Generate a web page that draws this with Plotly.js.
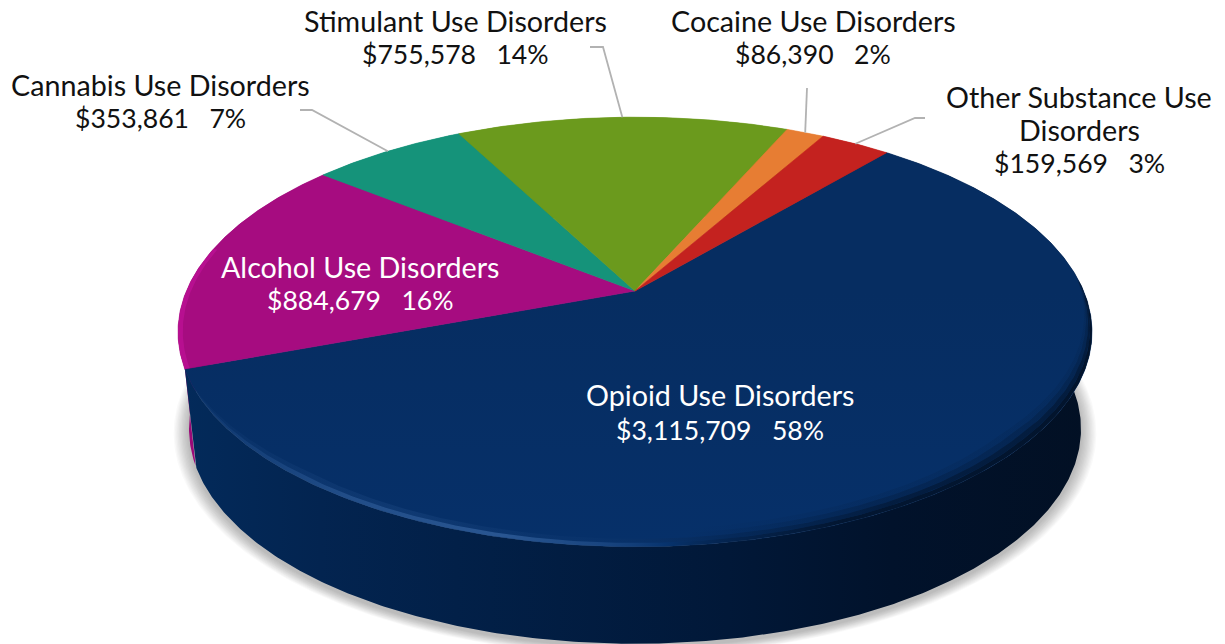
<!DOCTYPE html>
<html>
<head>
<meta charset="utf-8">
<title>Substance use disorder spending</title>
<script src="https://cdn.plot.ly/plotly-3.0.1.min.js"></script>
<style>html,body{margin:0;padding:0;background:#fff;overflow:hidden}</style>
</head>
<body>
<div id="chart" style="width:1225px;height:644px"></div>
<script>
// Spending by disorder, in clockwise slice order
const categories = ['Opioid Use Disorders', 'Alcohol Use Disorders', 'Cannabis Use Disorders',
  'Stimulant Use Disorders', 'Cocaine Use Disorders', 'Other Substance Use<br>Disorders'];
const amounts = [3115709, 884679, 353861, 755578, 86390, 159569];
const shareLabels = ['58%', '16%', '7%', '14%', '2%', '3%'];
const sliceColors = ['#062e62', '#a60c80', '#15937a', '#6b9a1d', '#e77d33', '#c4221f'];
const wallColors = ['#032550', '#9a0a78', '#15937a', '#6b9a1d', '#e77d33', '#c4221f'];
const labelColors = ['#ffffff', '#ffffff', '#111111', '#111111', '#111111', '#111111'];
const labelX = [720, 360, 160, 455, 813, 1079];
const labelFirstLineY = [395, 267, 85, 21, 21, 97];
const labelLineGap = [35, 33, 33, 33, 33, 33];
// Elbow and far end of each leader line; null when the label sits on its slice
const leaderEnds = [null, null, [[312, 110], [300, 110]], [[603, 47], [590, 47]],
  [[807, 88]], [[915, 118], [925, 118]]];

// Tilted disc: apex position, radii, perspective strength, wall geometry
const cx = 635, cy = 291, A = 448.6, B = 207, P = 0.1906;
const wallDrop = 97, baseShrink = 0.976;
const startAngle = 40.0 * Math.PI / 180;
const total = amounts.reduce((a, b) => a + b, 0);
const rad = d => d * Math.PI / 180;

function project(t, r) {
  const u = r * Math.sin(t), v = -r * Math.cos(t), w = 1 - P * v;
  return [cx + A * u / w, cy + B * v / w];
}
function projectBase(t, grow) {
  const p = project(t, 1);
  return [cx + (p[0] - cx) * (baseShrink + (grow || 0)),
          cy + wallDrop + (p[1] - cy) * (1 + (grow || 0))];
}
function arc(fn, t0, t1) {
  const n = Math.max(2, Math.ceil(Math.abs(t1 - t0) / rad(0.5)));
  const pts = [];
  for (let i = 0; i <= n; i++) pts.push(fn(t0 + (t1 - t0) * i / n));
  return pts;
}
function polygon(pts, extra) {
  return Object.assign({
    type: 'scatter', mode: 'lines', fill: 'toself', hoverinfo: 'skip', showlegend: false,
    x: pts.map(p => p[0]), y: pts.map(p => p[1]),
    line: {width: 0, color: 'rgba(0,0,0,0)'}
  }, extra);
}

// Slice angular ranges derived from the amounts
const ranges = [];
let cursor = startAngle;
amounts.forEach(a => {
  const span = a / total * 2 * Math.PI;
  ranges.push([cursor, cursor + span]);
  cursor += span;
});

const traces = [];

// Soft contact shadow under the base
for (let i = 12; i >= 1; i--) {
  const g = i * 0.0028;
  const pts = arc(t => {
    const p = projectBase(t, g);
    return [p[0], p[1] + 3];
  }, 0, 2 * Math.PI);
  traces.push(polygon(pts, {fillcolor: 'rgba(0,0,0,0.022)'}));
}

// Outer wall of every slice, shaded left to right
[1, 2, 3, 4, 5, 0].forEach(i => {
  const [t0, t1] = ranges[i];
  const pts = arc(t => project(t, 1), t0, t1).concat(arc(t => projectBase(t), t1, t0));
  const extra = i === 0 ? {
    fillgradient: {type: 'horizontal', start: 185, stop: 1090, colorscale: [
      [0, '#032a5a'], [0.15, '#032450'], [0.3, '#022048'], [0.6, '#011838'],
      [0.78, '#01122b'], [1, '#021024']]}
  } : {fillcolor: wallColors[i]};
  traces.push(polygon(pts, extra));
});

// Top face slices
ranges.forEach(([t0, t1], i) => {
  const pts = [[cx, cy]].concat(arc(t => project(t, 1), t0, t1), [[cx, cy]]);
  const extra = {
    line: {width: 0.6, color: sliceColors[i]},
    hoverinfo: 'text',
    text: categories[i].replace('<br>', ' ') + ': $' + amounts[i].toLocaleString('en-US')
  };
  if (i === 0) {
    extra.fillgradient = {type: 'vertical', start: 291, stop: 545,
      colorscale: [[0, '#062d61'], [1, '#063069']]};
  } else {
    extra.fillcolor = sliceColors[i];
  }
  traces.push(polygon(pts, extra));
});

// Bevel along the rim of the front slice; it narrows to nothing at both ends
const bevelRings = [
  [0.945, 0.960, [[0, 'rgba(2,20,45,0)'], [0.55, 'rgba(2,20,45,0)'], [0.75, 'rgba(2,20,45,0.10)'], [1, 'rgba(2,20,45,0.10)']]],
  [0.960, 0.975, [[0, 'rgba(2,20,45,0)'], [0.55, 'rgba(2,20,45,0)'], [0.75, 'rgba(2,20,45,0.32)'], [1, 'rgba(2,20,45,0.32)']]],
  [0.975, 0.988, [[0, 'rgba(50,95,155,0.05)'], [0.25, 'rgba(50,95,155,0.2)'], [0.45, 'rgba(30,70,125,0.1)'], [0.6, 'rgba(2,20,45,0.25)'], [0.78, 'rgba(2,20,45,0.68)'], [1, 'rgba(2,20,45,0.68)']]],
  [0.988, 1.000, [[0, 'rgba(45,90,150,0.15)'], [0.18, 'rgba(45,90,150,0.7)'], [0.35, 'rgba(45,90,150,0.9)'], [0.45, 'rgba(40,85,145,0.6)'], [0.53, 'rgba(7,52,111,0.8)'], [0.62, 'rgba(2,20,45,0.5)'], [0.72, 'rgba(2,20,45,0.92)'], [1, 'rgba(2,18,40,0.92)']]]
];
const bevelStart = rad(85), bevelEnd = ranges[0][1] - rad(4);
function taper(t) {
  const a = Math.min(1, (t - bevelStart) / rad(45));
  const b = Math.min(1, (bevelEnd - t) / rad(25));
  return Math.max(0, Math.min(a, b));
}
bevelRings.forEach(([r0, r1, colorscale]) => {
  const pts = arc(t => project(t, 1 - (1 - r1) * taper(t)), bevelStart, bevelEnd)
    .concat(arc(t => project(t, 1 - (1 - r0) * taper(t)), bevelEnd, bevelStart));
  traces.push(polygon(pts, {
    fillgradient: {type: 'horizontal', start: 185, stop: 1092, colorscale}
  }));
});
{
  const [t0, t1] = ranges[1];
  const tEnd = t0 + (t1 - t0) * 0.55;
  const pts = arc(t => project(t, 1), t0, tEnd).concat(arc(t => project(t, 0.99), tEnd, t0));
  traces.push(polygon(pts, {fillcolor: 'rgba(205,20,165,0.45)'}));
}

// Leader lines from the rim midpoint of each small slice out to its label
ranges.forEach(([t0, t1], i) => {
  if (!leaderEnds[i]) return;
  const pts = [project((t0 + t1) / 2, 1)].concat(leaderEnds[i]);
  traces.push({
    type: 'scatter', mode: 'lines', hoverinfo: 'skip', showlegend: false,
    x: pts.map(p => p[0]), y: pts.map(p => p[1]),
    line: {color: '#b2b2b2', width: 1.8}
  });
});

// Each label line is its own annotation so the name and figures can be sized apart
const annotations = [];
categories.forEach((name, i) => {
  const lines = name.split('<br>');
  const textLine = (text, row, size) => ({
    xref: 'x', yref: 'y', x: labelX[i], y: labelFirstLineY[i] + row * labelLineGap[i],
    xanchor: 'center', yanchor: 'middle', align: 'center', showarrow: false,
    text, font: {family: 'Lato, sans-serif', size, color: labelColors[i]}
  });
  lines.forEach((line, row) => annotations.push(textLine(line, row, 28.7)));
  annotations.push(textLine(
    '$' + amounts[i].toLocaleString('en-US') + '\u00a0\u00a0\u00a0' + shareLabels[i],
    lines.length, 26.6));
});

Plotly.newPlot('chart', traces, {
  width: 1225, height: 644,
  margin: {l: 0, r: 0, t: 0, b: 0},
  paper_bgcolor: '#ffffff', plot_bgcolor: '#ffffff',
  showlegend: false,
  xaxis: {range: [0, 1225], visible: false, fixedrange: true},
  yaxis: {range: [644, 0], visible: false, fixedrange: true},
  annotations
}, {displayModeBar: false});
</script>
</body>
</html>
